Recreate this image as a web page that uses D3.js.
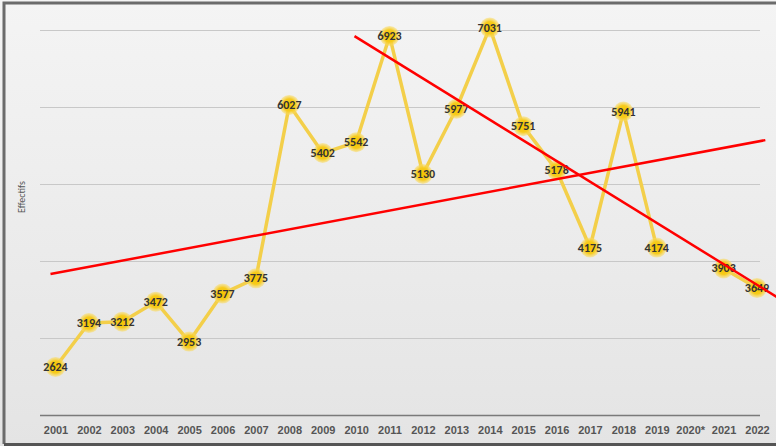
<!DOCTYPE html>
<html>
<head>
<meta charset="utf-8">
<script src="https://cdn.jsdelivr.net/npm/d3@7"></script>
<style>
  body { margin: 0; background: #fff; }
  svg { display: block; font-family: Calibri, Carlito, "Liberation Sans", sans-serif; }
</style>
</head>
<body>
<script>
const WIDTH = 776;
const HEIGHT = 446;

// categories and values (2020* has no value)
var years = ["2001","2002","2003","2004","2005","2006","2007","2008","2009","2010","2011",
             "2012","2013","2014","2015","2016","2017","2018","2019","2020*","2021","2022"];
var effectifs = [2624, 3194, 3212, 3472, 2953, 3577, 3775, 6027, 5402, 5542, 6923,
                 5130, 5977, 7031, 5751, 5178, 4175, 5941, 4174, null, 3903, 3649];
var gridValues = [2000, 3000, 4000, 5000, 6000, 7000];

// two hand drawn red lines, as [year index, value] end points
var trendUp = [[-0.15, 3830], [21.25, 5570]];
var trendDown = [[8.95, 6920], [21.6, 3530]];

var translate = function(x, y){
  return "translate(" + x + "," + y + ")";
};

var xScale = d3.scalePoint()
  .domain(years)
  .range([55.5, 757]);

var xIndex = d3.scaleLinear()
  .domain([0, years.length - 1])
  .range([55.5, 757]);

var yScale = d3.scaleLinear()
  .domain([2000, 7000])
  .range([415, 30]);

var svg = d3.select('body')
  .append('svg')
  .attr('width', WIDTH)
  .attr('height', HEIGHT);

var defs = svg.append('defs');
var grad = defs.append('linearGradient')
  .attr('id', 'bg')
  .attr('x1', 0).attr('y1', 0).attr('x2', 0).attr('y2', 1);
grad.append('stop').attr('offset', '0%').attr('stop-color', '#f4f4f4');
grad.append('stop').attr('offset', '100%').attr('stop-color', '#e4e4e4');

var glow = defs.append('radialGradient').attr('id', 'dot');
glow.append('stop').attr('offset', '0%').attr('stop-color', '#f5c400');
glow.append('stop').attr('offset', '60%').attr('stop-color', '#f7cb1c');
glow.append('stop').attr('offset', '100%').attr('stop-color', '#f9dc6a').attr('stop-opacity', 0.5);

// frame
svg.append('rect')
  .attr('x', 0).attr('y', 0)
  .attr('width', WIDTH).attr('height', HEIGHT)
  .attr('fill', 'url(#bg)');
svg.append('path')
  .attr('d', 'M4,' + (HEIGHT - 2) + 'V3H' + WIDTH)
  .attr('fill', 'none')
  .attr('stroke', '#6b6b6b')
  .attr('stroke-width', 3);
svg.append('line')
  .attr('x1', 4).attr('x2', WIDTH)
  .attr('y1', HEIGHT - 1.5).attr('y2', HEIGHT - 1.5)
  .attr('stroke', '#555')
  .attr('stroke-width', 3);

// grid
var yAxis = d3.axisLeft(yScale)
  .tickValues(gridValues)
  .tickSize(-720)
  .tickFormat('');

svg.append('g')
  .attr('transform', translate(40, 0))
  .call(yAxis)
  .call(function(g){
    g.select('.domain').remove();
    g.selectAll('.tick line')
      .attr('stroke', function(d){ return d === 2000 ? '#7a7a7a' : '#c8c8c8'; })
      .attr('stroke-width', function(d){ return d === 2000 ? 1.5 : 1; });
  });

// x labels
var xAxis = d3.axisBottom(xScale).tickSize(0).tickPadding(11);
svg.append('g')
  .attr('transform', translate(0, 415))
  .call(xAxis)
  .call(function(g){
    g.select('.domain').remove();
    g.selectAll('text')
      .attr('font-size', 11)
      .attr('font-weight', 'bold')
      .attr('fill', '#555');
  });

svg.append('text')
  .attr('transform', 'translate(25,197) rotate(-90)')
  .attr('text-anchor', 'middle')
  .attr('font-size', 10)
  .attr('fill', '#555')
  .text('Effectifs');

// series
var points = years.map(function(y, i){ return {year: y, value: effectifs[i]}; });

var line = d3.line()
  .defined(function(d){ return d.value != null; })
  .x(function(d){ return xScale(d.year); })
  .y(function(d){ return yScale(d.value); });

svg.append('path')
  .attr('d', line(points))
  .attr('fill', 'none')
  .attr('stroke', '#f3cf4a')
  .attr('stroke-width', 3.5)
  .attr('stroke-linejoin', 'round');

var valid = points.filter(function(d){ return d.value != null; });

svg.append('g')
  .selectAll('circle')
  .data(valid)
  .enter()
  .append('circle')
  .attr('cx', function(d){ return xScale(d.year); })
  .attr('cy', function(d){ return yScale(d.value); })
  .attr('r', 10)
  .attr('fill', 'url(#dot)');

svg.append('g')
  .selectAll('text')
  .data(valid)
  .enter()
  .append('text')
  .attr('x', function(d){ return xScale(d.year); })
  .attr('y', function(d){ return yScale(d.value) + 4; })
  .attr('text-anchor', 'middle')
  .attr('font-size', 12)
  .attr('font-weight', 'bold')
  .attr('fill', '#333')
  .text(function(d){ return d.value; });

// red lines
var redLine = d3.line()
  .x(function(d){ return xIndex(d[0]); })
  .y(function(d){ return yScale(d[1]); });

[trendUp, trendDown].forEach(function(t){
  svg.append('path')
    .attr('d', redLine(t))
    .attr('fill', 'none')
    .attr('stroke', '#ff0000')
    .attr('stroke-width', 2.5);
});
</script>
</body>
</html>
